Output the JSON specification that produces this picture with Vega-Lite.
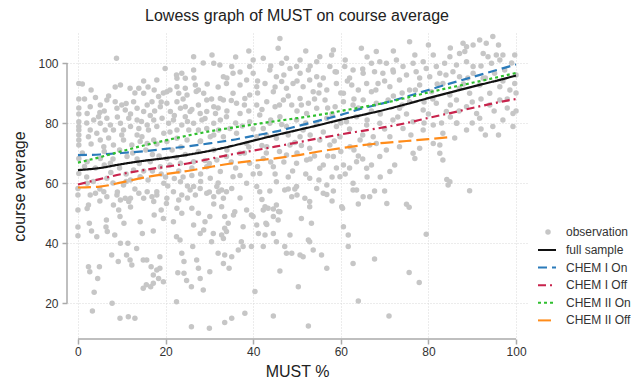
{
"$schema":"https://vega.github.io/schema/vega-lite/v6.json",
"autosize":{"type":"none"},
"width":460,"height":306,
"padding":{"left":67,"top":33,"right":104,"bottom":43},
"background":"white",
"title":{"text":"Lowess graph of MUST on course average","fontSize":16,"font":"Liberation Sans","fontWeight":"normal","color":"#222222","offset":9,"anchor":"middle"},
"config":{"view":{"stroke":null},"font":"Liberation Sans"},
"datasets":{
"obs":[
{"m":0,"c":51},{"m":0,"c":45.3},{"m":0,"c":42.4},{"m":2.4,"c":52.7},{"m":2.6,"c":46.6},{"m":3.1,"c":44},{"m":4.3,"c":42.1},{"m":2.4,"c":32.1},{"m":2.7,"c":30.4},{"m":3.7,"c":23.6},{"m":4.5,"c":28.2},{"m":4.9,"c":32.1},{"m":3.3,"c":17.3},{"m":6.5,"c":47.7},{"m":6.4,"c":45.3},{"m":6.7,"c":43.8},{"m":7.7,"c":36},{"m":7.8,"c":19.9},{"m":8.4,"c":42.7},{"m":9.6,"c":48.8},{"m":9.2,"c":33.8},{"m":9.7,"c":39.9},{"m":9.6,"c":14.9},{"m":10.5,"c":46.6},{"m":11.1,"c":36},{"m":11.4,"c":39.9},{"m":11.9,"c":34.3},{"m":12.3,"c":32.7},{"m":11.5,"c":15.4},{"m":13,"c":14.9},{"m":13.4,"c":38.2},{"m":14.2,"c":47.1},{"m":14.7,"c":43.2},{"m":14.9,"c":34.3},{"m":15.7,"c":34.3},{"m":14.9,"c":24.9},{"m":15.6,"c":26.1},{"m":16.6,"c":25.4},{"m":17.2,"c":26.6},{"m":16.7,"c":32.1},{"m":17.2,"c":29.3},{"m":18,"c":31},{"m":18.7,"c":31.6},{"m":18.4,"c":28.2},{"m":19.5,"c":27.1},{"m":17.2,"c":44},{"m":17.4,"c":49.3},{"m":19.5,"c":48.2},{"m":18.7,"c":35.4},{"m":20.2,"c":53.2},{"m":21.8,"c":47.1},{"m":22.5,"c":42.1},{"m":23.3,"c":41},{"m":22.8,"c":30.1},{"m":24.2,"c":29.9},{"m":22.5,"c":20.4},{"m":23.7,"c":36.6},{"m":24.2,"c":33.8},{"m":24.8,"c":27.5},{"m":25.9,"c":25.4},{"m":26.2,"c":38.8},{"m":25.9,"c":12.1},{"m":27.1,"c":34.3},{"m":27.5,"c":31.6},{"m":27.9,"c":28.2},{"m":28.6,"c":24.3},{"m":27.9,"c":43.2},{"m":29,"c":47.1},{"m":30.1,"c":48.8},{"m":30.1,"c":30.4},{"m":30,"c":11.6},{"m":30.5,"c":40.4},{"m":30.9,"c":43.2},{"m":32,"c":36.6},
{"m":0,"c":58.2},{"m":0,"c":56},{"m":2.8,"c":56},{"m":4,"c":56.6},{"m":2.1,"c":51.5},{"m":5.9,"c":57.1},{"m":6.6,"c":55.4},{"m":8.9,"c":56},{"m":9.7,"c":54.3},{"m":10.8,"c":54.9},{"m":11.6,"c":53.8},{"m":12,"c":54.9},{"m":8.1,"c":52.7},{"m":9.3,"c":51},{"m":13.9,"c":56.6},{"m":15,"c":54.9},{"m":15.8,"c":57.1},{"m":16.9,"c":55.4},{"m":18,"c":57.1},{"m":17.3,"c":53.8},{"m":20.3,"c":54.9},{"m":21.8,"c":57.1},{"m":23,"c":54.3},{"m":23.7,"c":56},{"m":22.6,"c":51.6},{"m":25.6,"c":57.7},{"m":26.8,"c":56},{"m":27.9,"c":58.2},{"m":29.4,"c":56.6},{"m":31,"c":55.4},{"m":32.1,"c":57.1},{"m":26,"c":51.6},{"m":23.7,"c":49.9},{"m":27.5,"c":49.9},{"m":26.4,"c":46},{"m":28.7,"c":44.3},
{"m":32.8,"c":57.7},{"m":33.9,"c":57.1},{"m":35.1,"c":58.2},{"m":33.2,"c":54.9},{"m":32.8,"c":52.1},{"m":33.5,"c":48.8},{"m":34.3,"c":46.6},{"m":33.5,"c":44.9},{"m":32.8,"c":42.7},{"m":33.9,"c":43.8},{"m":33.2,"c":41.5},{"m":35.8,"c":50.4},{"m":37.7,"c":45.4},{"m":37.3,"c":40.4},{"m":37.7,"c":38.8},{"m":36.6,"c":37.7},{"m":35.1,"c":35.4},{"m":33.5,"c":36},{"m":33.2,"c":33.2},{"m":34.5,"c":31.6},{"m":38.5,"c":51},{"m":39.6,"c":49.3},{"m":40,"c":48.8},{"m":40.8,"c":58.8},{"m":41.5,"c":57.1},{"m":43.8,"c":57.3},{"m":42.7,"c":52.1},{"m":43.4,"c":51.6},{"m":44.6,"c":51.3},{"m":42.3,"c":51},{"m":46.1,"c":50.4},{"m":45.3,"c":52.7},{"m":45.7,"c":47.7},{"m":40.8,"c":46},{"m":43.1,"c":46.2},{"m":41.2,"c":43.2},{"m":42.7,"c":42.7},{"m":44.6,"c":43.2},{"m":39.6,"c":38.8},{"m":42.3,"c":38.8},{"m":45.3,"c":40.4},{"m":47.2,"c":38.8},{"m":48.4,"c":42.7},{"m":47.6,"c":36.6},{"m":50.7,"c":36},{"m":51.4,"c":35.4},{"m":53.7,"c":37.7},{"m":55.6,"c":36},{"m":52.6,"c":41},{"m":52.9,"c":40.4},{"m":46.1,"c":30.7},{"m":56.8,"c":31.6},{"m":40.4,"c":23.8},{"m":50.3,"c":25.4},{"m":38.1,"c":16.6},{"m":35.1,"c":14.9},{"m":33.5,"c":13.5},{"m":44.6,"c":15.7},{"m":52.6,"c":12.3},{"m":64,"c":20.7},{"m":61.7,"c":42.7},{"m":61.7,"c":38.8},{"m":62.8,"c":33.2},{"m":60.6,"c":45.4},{"m":60.2,"c":52.1},{"m":60.4,"c":51.6},{"m":47.2,"c":57.7},{"m":48,"c":58},{"m":49.5,"c":58},{"m":48.8,"c":55.4},{"m":51.8,"c":54.9},{"m":52.9,"c":53.8},{"m":52.9,"c":52.1},{"m":53.3,"c":46.6},{"m":51,"c":48.2},{"m":54.5,"c":58.2},{"m":56,"c":56.6},{"m":56.8,"c":56.2},{"m":58.3,"c":57.3},{"m":62.8,"c":57.7},{"m":63.6,"c":57.7},{"m":65.1,"c":55.4},{"m":66.6,"c":55.4},{"m":35.5,"c":49.3},{"m":42.9,"c":46.6},{"m":44.6,"c":48.8},{"m":45.8,"c":50.5},{"m":48.8,"c":36.6},
{"m":67.7,"c":57.3},{"m":70,"c":57.3},{"m":70.5,"c":53.2},{"m":75,"c":52.9},{"m":75.6,"c":51.9},{"m":79.5,"c":42.9},{"m":67.7,"c":34.7},{"m":75.6,"c":30.2},{"m":77.9,"c":26.8},{"m":71,"c":15.7},{"m":89.4,"c":57.4},{"m":84.5,"c":59.3},
{"m":8.8,"c":101.6},{"m":0.2,"c":93.2},{"m":19.9,"c":98.2},{"m":26.4,"c":102.1},{"m":30.6,"c":102.7},{"m":31,"c":99.9},{"m":23.7,"c":96.6},{"m":26.4,"c":97.7},{"m":18,"c":94.3},{"m":22.6,"c":94.9},{"m":24.5,"c":94.9},{"m":9.7,"c":92.7},{"m":11.9,"c":91.6},{"m":13.9,"c":91.6},{"m":15,"c":89.9},{"m":17.4,"c":91},{"m":20.3,"c":90.4},{"m":22.6,"c":92.1},{"m":23,"c":89.9},{"m":24.5,"c":91.6},{"m":24.9,"c":89.3},{"m":26.8,"c":92.7},{"m":27.5,"c":91},{"m":28.7,"c":89.9},{"m":29.4,"c":87.7},{"m":31,"c":85.4},{"m":32.5,"c":88.2},
{"m":2.8,"c":85.4},{"m":5.1,"c":86},{"m":6.6,"c":87.7},{"m":8.5,"c":87.1},{"m":8.9,"c":84.9},{"m":10,"c":86},{"m":10.8,"c":84.3},{"m":12.7,"c":87.1},{"m":13.5,"c":84.9},{"m":15,"c":83.8},{"m":15.8,"c":86},{"m":16.9,"c":87.1},{"m":18.4,"c":88.8},{"m":18.8,"c":85.4},{"m":20.3,"c":86.6},{"m":21.1,"c":83.8},{"m":22.6,"c":87.1},{"m":23.4,"c":84.9},{"m":24.5,"c":85.4},{"m":25.6,"c":83.8},{"m":27.5,"c":86},{"m":27.9,"c":83.2},{"m":29.4,"c":83.8},{"m":31.4,"c":83.2},
{"m":0.2,"c":80.4},{"m":0.2,"c":78.8},{"m":0.2,"c":77.7},{"m":0.2,"c":76},{"m":0.2,"c":74.3},{"m":0.2,"c":72.7},{"m":2.1,"c":83.2},{"m":3.6,"c":81},{"m":4.7,"c":82.1},{"m":5.1,"c":79.9},{"m":2.8,"c":77.7},{"m":4.3,"c":76.6},{"m":2.4,"c":75.4},{"m":6.6,"c":81.6},{"m":7.4,"c":79.3},{"m":8.1,"c":77.7},{"m":6.2,"c":77.7},{"m":9.7,"c":79.9},{"m":10.4,"c":77.7},{"m":11.6,"c":81.6},{"m":12,"c":78.8},{"m":13.5,"c":81},{"m":13.9,"c":78.2},{"m":14.6,"c":75.4},{"m":15.8,"c":79.3},{"m":16.1,"c":77.7},{"m":17.3,"c":81},{"m":18,"c":78.8},{"m":19.2,"c":81.6},{"m":19.6,"c":76.6},{"m":20.7,"c":79.9},{"m":21.8,"c":81},{"m":22.6,"c":77.7},{"m":23.7,"c":79.3},{"m":24.5,"c":82.1},{"m":25.3,"c":77.7},{"m":26.4,"c":79.9},{"m":27.5,"c":77.7},{"m":28.3,"c":81},{"m":29.4,"c":78.2},{"m":31,"c":79.9},{"m":32.1,"c":77.7},{"m":32.5,"c":81},
{"m":5.1,"c":74.3},{"m":5.9,"c":72.1},{"m":8.1,"c":72.7},{"m":10.4,"c":74.3},{"m":12.3,"c":72.7},{"m":14.2,"c":73.8},{"m":15.8,"c":73.2},{"m":17.3,"c":74.3},{"m":20.3,"c":73.8},{"m":22.6,"c":74.9},{"m":24.9,"c":74.3},{"m":27.9,"c":73.8},{"m":30.2,"c":75.4},
{"m":2.1,"c":67.1},{"m":5.1,"c":68.2},{"m":7.4,"c":66.6},{"m":11.2,"c":68.8},{"m":12.7,"c":64.3},{"m":16.5,"c":67.1},{"m":18.8,"c":65.4},{"m":20.3,"c":68.2},{"m":23.4,"c":66.6},{"m":26.4,"c":67.1},{"m":29.4,"c":65.4},{"m":31.7,"c":67.7},{"m":32.5,"c":63.8},{"m":0.2,"c":68.2},{"m":0.2,"c":63.2},
{"m":2.1,"c":59.9},{"m":6.6,"c":61.6},{"m":10.4,"c":59.3},{"m":14.2,"c":62.1},{"m":19.6,"c":59.9},{"m":23.4,"c":60.4},{"m":26.4,"c":58.8},{"m":30.2,"c":61.6},{"m":31.7,"c":58.8},
{"m":46.1,"c":108.2},{"m":45.7,"c":104.9},{"m":58.3,"c":104.3},{"m":57.9,"c":102.7},{"m":64.7,"c":104.9},{"m":40,"c":101},{"m":42.3,"c":101.6},{"m":46.5,"c":99.9},{"m":47.6,"c":101.6},{"m":50.7,"c":101},{"m":54.5,"c":100.4},{"m":55.2,"c":102.1},{"m":32.4,"c":99.3},{"m":35.1,"c":98.8},{"m":35.4,"c":96.6},{"m":33.2,"c":95.4},{"m":39.2,"c":98.8},{"m":40,"c":96.6},{"m":43.8,"c":97.7},{"m":45.3,"c":95.4},{"m":48.4,"c":98.2},{"m":49.9,"c":98.8},{"m":50.7,"c":96.6},{"m":52.6,"c":97.7},{"m":54.5,"c":95.4},{"m":57.5,"c":98.8},{"m":58.7,"c":97.1},{"m":60.9,"c":98.8},{"m":62.8,"c":97.7},{"m":65.1,"c":96.6},{"m":67,"c":99.9},
{"m":33.9,"c":93.2},{"m":37,"c":92.7},{"m":38.5,"c":94.3},{"m":40.8,"c":92.1},{"m":42.7,"c":93.2},{"m":44.6,"c":90.4},{"m":46.5,"c":93.8},{"m":47.6,"c":91.6},{"m":49.1,"c":93.2},{"m":51.4,"c":92.1},{"m":52.9,"c":94.3},{"m":53.7,"c":90.4},{"m":55.2,"c":92.7},{"m":56.8,"c":91},{"m":59,"c":93.2},{"m":60.6,"c":89.9},{"m":62.5,"c":92.7},{"m":64,"c":91},{"m":65.9,"c":93.2},{"m":67,"c":90.4},{"m":35.4,"c":89.9},{"m":39.2,"c":89.3},
{"m":33.2,"c":87.7},{"m":36.2,"c":86.6},{"m":38.1,"c":88.2},{"m":40.8,"c":86},{"m":43.1,"c":87.1},{"m":45,"c":85.4},{"m":46.9,"c":87.7},{"m":48.8,"c":86},{"m":50.7,"c":88.2},{"m":52.6,"c":86.6},{"m":54.5,"c":84.9},{"m":56.4,"c":87.7},{"m":58.7,"c":85.4},{"m":60.6,"c":87.1},{"m":62.8,"c":86},{"m":65.1,"c":87.7},
{"m":33.9,"c":82.1},{"m":37,"c":83.2},{"m":39.2,"c":80.4},{"m":41.5,"c":82.7},{"m":43.8,"c":79.9},{"m":46.1,"c":82.1},{"m":47.6,"c":78.8},{"m":49.9,"c":81},{"m":52.2,"c":83.2},{"m":54.5,"c":79.9},{"m":56.8,"c":81.6},{"m":59,"c":78.8},{"m":61.3,"c":80.4},{"m":63.6,"c":82.1},{"m":65.9,"c":79.3},{"m":34.7,"c":78.2},{"m":42.3,"c":78.2},{"m":51.4,"c":77.7},
{"m":33.2,"c":75.4},{"m":36.2,"c":76.6},{"m":38.5,"c":73.2},{"m":40.8,"c":75.4},{"m":43.1,"c":72.1},{"m":45.3,"c":74.9},{"m":48.4,"c":72.7},{"m":50.7,"c":75.4},{"m":52.9,"c":71.6},{"m":55.2,"c":74.3},{"m":57.5,"c":72.7},{"m":59.8,"c":75.4},{"m":62.1,"c":72.1},{"m":64.4,"c":74.3},{"m":66.6,"c":72.7},
{"m":33.9,"c":68.8},{"m":37,"c":69.9},{"m":39.2,"c":66.6},{"m":42.3,"c":68.2},{"m":44.6,"c":65.4},{"m":47.6,"c":69.3},{"m":49.9,"c":66.6},{"m":52.2,"c":67.7},{"m":55.2,"c":64.9},{"m":58.3,"c":68.8},{"m":60.6,"c":66},{"m":63.6,"c":67.1},{"m":65.9,"c":64.9},
{"m":35.4,"c":62.1},{"m":38.5,"c":59.9},{"m":41.5,"c":63.2},{"m":45.3,"c":60.4},{"m":49.9,"c":58.8},{"m":52.9,"c":61.6},{"m":56.8,"c":59.3},{"m":59.8,"c":62.1},{"m":62.8,"c":59.9},
{"m":94.7,"c":108.8},{"m":75.7,"c":107.1},{"m":87.9,"c":106.6},{"m":88.7,"c":105.4},{"m":90.2,"c":106},{"m":91.7,"c":107.7},{"m":93.2,"c":106.6},{"m":76.9,"c":102.7},{"m":81.1,"c":102.7},{"m":84.9,"c":102.1},{"m":87.1,"c":103.2},{"m":88.3,"c":103.8},{"m":68.1,"c":103.8},{"m":92.5,"c":103.2},{"m":93.6,"c":102.1},{"m":95.5,"c":102.7},{"m":97,"c":102.7},{"m":99.7,"c":102.7},
{"m":68.9,"c":100.4},{"m":70.4,"c":99.9},{"m":72.7,"c":101},{"m":74.2,"c":98.8},{"m":76.5,"c":99.9},{"m":78.8,"c":100.4},{"m":79.5,"c":98.2},{"m":81.8,"c":98.8},{"m":83.7,"c":99.9},{"m":86.4,"c":99.3},{"m":88.7,"c":100.4},{"m":90.2,"c":98.8},{"m":94.4,"c":99.9},{"m":96.3,"c":101},
{"m":67.7,"c":97.1},{"m":69.6,"c":96.6},{"m":71.9,"c":97.7},{"m":75,"c":96},{"m":77.2,"c":97.1},{"m":80.3,"c":95.4},{"m":82.6,"c":96.6},{"m":85.6,"c":97.1},{"m":87.1,"c":95.4},{"m":90.2,"c":96.6},{"m":92.5,"c":94.9},{"m":95.1,"c":96.6},{"m":97.4,"c":97.7},
{"m":68.5,"c":93.2},{"m":71.2,"c":92.1},{"m":73.4,"c":94.3},{"m":75.7,"c":91},{"m":78,"c":92.7},{"m":80.7,"c":90.4},{"m":83.3,"c":93.2},{"m":84.9,"c":89.3},{"m":87.1,"c":91.6},{"m":89.4,"c":89.9},{"m":91.7,"c":92.7},{"m":94,"c":89.9},{"m":96.3,"c":92.1},{"m":98.6,"c":91},{"m":99.7,"c":93.2},
{"m":68.1,"c":86.6},{"m":70.8,"c":87.7},{"m":73.4,"c":84.9},{"m":75.7,"c":87.1},{"m":78.8,"c":84.3},{"m":81.8,"c":86.6},{"m":84.1,"c":83.8},{"m":86.4,"c":87.7},{"m":88.7,"c":85.4},{"m":91,"c":83.2},{"m":94,"c":86},{"m":96.3,"c":87.7},{"m":99.3,"c":83.2},
{"m":68.9,"c":79.9},{"m":71.9,"c":81},{"m":74.2,"c":78.2},{"m":76.5,"c":80.4},{"m":78.8,"c":77.7},{"m":81.1,"c":79.3},{"m":83.3,"c":76.6},{"m":86.4,"c":79.9},{"m":88.7,"c":77.7},{"m":91.7,"c":81.6},{"m":94.7,"c":78.8},{"m":99.3,"c":78.8},{"m":67.4,"c":75.4},{"m":71.2,"c":75.4},
{"m":68.1,"c":73.2},{"m":70.4,"c":71},{"m":73.4,"c":72.1},{"m":76.5,"c":69.9},{"m":76.9,"c":68.2},{"m":78,"c":71.6},{"m":81.1,"c":73.2},{"m":82.6,"c":69.9},{"m":83.3,"c":67.7},{"m":68.9,"c":68.8},{"m":72.3,"c":66},{"m":71.2,"c":63.8},{"m":84.9,"c":60.4},{"m":84.2,"c":61.2},{"m":82.6,"c":72.7},{"m":86.5,"c":80},
{"m":1.5,"c":88},{"m":3,"c":91},{"m":5,"c":83.5},{"m":7,"c":89},{"m":9,"c":82},{"m":11,"c":86.5},{"m":13,"c":90},{"m":14.5,"c":80.5},{"m":16,"c":92},{"m":17.5,"c":84},{"m":19,"c":87},{"m":21,"c":91},{"m":22,"c":82.5},{"m":24,"c":88},{"m":26,"c":84.5},{"m":27,"c":90.5},{"m":29,"c":81.5},{"m":30.5,"c":88},{"m":32,"c":92},
{"m":1,"c":70},{"m":3,"c":73},{"m":4,"c":65},{"m":6,"c":70.5},{"m":8,"c":68},{"m":9.5,"c":71},{"m":11,"c":63},{"m":12.5,"c":70},{"m":14,"c":66.5},{"m":15.5,"c":71},{"m":17,"c":64},{"m":18.5,"c":69},{"m":20,"c":62},{"m":21.5,"c":71},{"m":23,"c":64},{"m":24.5,"c":69.5},{"m":26,"c":62.5},{"m":27.5,"c":70.5},{"m":29,"c":67.5},{"m":31,"c":71},
{"m":2,"c":62},{"m":5,"c":58},{"m":7.5,"c":63.5},{"m":9,"c":57},{"m":11,"c":60.5},{"m":13,"c":58},{"m":16,"c":61},{"m":18,"c":56},{"m":20.5,"c":59},{"m":22,"c":61.5},{"m":25,"c":59},{"m":28,"c":60.5},{"m":30,"c":57},
{"m":34,"c":84},{"m":36,"c":80},{"m":38,"c":86},{"m":40,"c":78},{"m":42,"c":84.5},{"m":44,"c":81},{"m":46,"c":86},{"m":48,"c":76},{"m":50,"c":84},{"m":52,"c":80},{"m":54,"c":88},{"m":56,"c":77},{"m":58,"c":83},{"m":60,"c":90},{"m":62,"c":78},{"m":64,"c":85},{"m":66,"c":81},{"m":68,"c":91},
{"m":34,"c":71},{"m":36,"c":65},{"m":38,"c":70},{"m":40,"c":63},{"m":42,"c":72.5},{"m":44,"c":67},{"m":46,"c":70.5},{"m":48,"c":62},{"m":50,"c":70},{"m":52,"c":63},{"m":54,"c":69},{"m":56,"c":66},{"m":58,"c":62},{"m":60,"c":70.5},{"m":62,"c":65},{"m":64,"c":69},{"m":66,"c":62},
{"m":34,"c":95},{"m":37,"c":97},{"m":41,"c":94},{"m":44,"c":99},{"m":47,"c":96},{"m":50,"c":94},{"m":53,"c":99},{"m":56,"c":95},{"m":59,"c":97},{"m":62,"c":95},{"m":65,"c":98},
{"m":70,"c":94},{"m":72,"c":89},{"m":74,"c":86},{"m":77,"c":91},{"m":79,"c":87},{"m":82,"c":93},{"m":85,"c":86},{"m":88,"c":93},{"m":90,"c":87},{"m":93,"c":95},{"m":95,"c":84},{"m":98,"c":88},{"m":100,"c":96},{"m":100,"c":90},{"m":100,"c":84},
{"m":70,"c":78},{"m":73,"c":82},{"m":76,"c":76},{"m":80,"c":83},{"m":83,"c":80},{"m":86,"c":75},{"m":90,"c":80},{"m":93,"c":76},{"m":97,"c":81},{"m":28.6,"c":100},{"m":0.2,"c":88},{"m":0.2,"c":85},{"m":0.2,"c":83},
{"m":1,"c":93},{"m":2,"c":80},{"m":4,"c":88.5},{"m":6,"c":84},{"m":7,"c":75},{"m":8.5,"c":92},{"m":10,"c":76},{"m":12,"c":83},{"m":13.5,"c":76},{"m":15,"c":94},{"m":16.5,"c":82.5},{"m":18,"c":73},{"m":19.5,"c":90},{"m":21,"c":77},{"m":22.5,"c":96},{"m":23.5,"c":72},{"m":25,"c":80.5},{"m":26.5,"c":95},{"m":28,"c":74},{"m":29.5,"c":93},{"m":31,"c":76},{"m":32,"c":85},
{"m":1.5,"c":65.5},{"m":3.5,"c":60.5},{"m":6,"c":66},{"m":8,"c":60},{"m":9.5,"c":65},{"m":12,"c":61},{"m":13.5,"c":68},{"m":15,"c":64},{"m":17,"c":69.5},{"m":19,"c":63},{"m":21,"c":66},{"m":22.5,"c":68.5},{"m":24,"c":62},{"m":26,"c":65},{"m":28,"c":63},{"m":30,"c":66.5},{"m":32,"c":60},
{"m":35,"c":87.5},{"m":37.5,"c":79},{"m":39,"c":84},{"m":41,"c":90},{"m":43,"c":76},{"m":45,"c":92},{"m":46.5,"c":79.5},{"m":48,"c":89},{"m":49.5,"c":73.5},{"m":51,"c":86},{"m":53,"c":76},{"m":55,"c":90},{"m":57,"c":85},{"m":58.5,"c":74},{"m":60,"c":80},{"m":61.5,"c":94},{"m":63,"c":88},{"m":65,"c":76},{"m":67,"c":84},{"m":69,"c":83},
{"m":35,"c":67},{"m":37,"c":62.5},{"m":39,"c":72},{"m":41,"c":65.5},{"m":43,"c":70},{"m":45,"c":63},{"m":47,"c":67},{"m":49,"c":64},{"m":51,"c":72.5},{"m":53,"c":68},{"m":55,"c":61},{"m":57,"c":69},{"m":59,"c":65},{"m":61,"c":63},{"m":63,"c":71},{"m":65,"c":68},{"m":67,"c":66},{"m":69,"c":62},
{"m":36,"c":102},{"m":39,"c":104},{"m":52,"c":104},{"m":61,"c":101},{"m":66,"c":102},{"m":72,"c":104},{"m":80,"c":106},{"m":85,"c":105},{"m":96,"c":106},{"m":99,"c":100},
{"m":5,"c":54},{"m":12,"c":52},{"m":19,"c":51},{"m":25,"c":55},{"m":31,"c":53},{"m":37,"c":55},{"m":42,"c":54.5},{"m":50,"c":56},{"m":58,"c":54},{"m":64,"c":53},
{"m":72,"c":97},{"m":78,"c":95},{"m":84,"c":96},{"m":89,"c":95},{"m":92,"c":99},{"m":97,"c":94},{"m":74,"c":90},{"m":81,"c":88},{"m":87,"c":84},{"m":92,"c":88},{"m":98,"c":85},{"m":75,"c":83},{"m":79,"c":80},{"m":85,"c":82},{"m":92,"c":78},{"m":96,"c":76}
],
"lines":[
{"s":"full sample","m":0,"c":64.3},{"s":"full sample","m":5,"c":65},{"s":"full sample","m":10,"c":66.3},{"s":"full sample","m":15,"c":67.4},{"s":"full sample","m":20,"c":68.3},{"s":"full sample","m":25,"c":69.4},{"s":"full sample","m":30,"c":70.7},{"s":"full sample","m":35,"c":72.3},{"s":"full sample","m":40,"c":74.1},{"s":"full sample","m":45,"c":75.9},{"s":"full sample","m":50,"c":77.6},{"s":"full sample","m":55,"c":79.3},{"s":"full sample","m":60,"c":81.1},{"s":"full sample","m":65,"c":82.7},{"s":"full sample","m":70,"c":84.4},{"s":"full sample","m":75,"c":86.3},{"s":"full sample","m":80,"c":88.3},{"s":"full sample","m":85,"c":90.2},{"s":"full sample","m":90,"c":92.1},{"s":"full sample","m":95,"c":93.9},{"s":"full sample","m":100,"c":95.8},
{"s":"CHEM I On","m":0,"c":69.3},{"s":"CHEM I On","m":5,"c":69.5},{"s":"CHEM I On","m":10,"c":70},{"s":"CHEM I On","m":15,"c":70.6},{"s":"CHEM I On","m":20,"c":71.4},{"s":"CHEM I On","m":25,"c":72.2},{"s":"CHEM I On","m":30,"c":73.2},{"s":"CHEM I On","m":35,"c":74.3},{"s":"CHEM I On","m":40,"c":75.7},{"s":"CHEM I On","m":45,"c":77.1},{"s":"CHEM I On","m":50,"c":78.9},{"s":"CHEM I On","m":55,"c":80.8},{"s":"CHEM I On","m":60,"c":82.7},{"s":"CHEM I On","m":65,"c":84.9},{"s":"CHEM I On","m":70,"c":86.7},{"s":"CHEM I On","m":75,"c":88.8},{"s":"CHEM I On","m":80,"c":91},{"s":"CHEM I On","m":85,"c":93.2},{"s":"CHEM I On","m":90,"c":95.3},{"s":"CHEM I On","m":95,"c":97.4},{"s":"CHEM I On","m":100,"c":99.5},
{"s":"CHEM I Off","m":0,"c":59.5},{"s":"CHEM I Off","m":5,"c":61.3},{"s":"CHEM I Off","m":10,"c":63},{"s":"CHEM I Off","m":15,"c":64.3},{"s":"CHEM I Off","m":20,"c":65.4},{"s":"CHEM I Off","m":25,"c":66.5},{"s":"CHEM I Off","m":30,"c":68},{"s":"CHEM I Off","m":35,"c":69.5},{"s":"CHEM I Off","m":40,"c":70.8},{"s":"CHEM I Off","m":45,"c":72.1},{"s":"CHEM I Off","m":50,"c":73.5},{"s":"CHEM I Off","m":55,"c":74.9},{"s":"CHEM I Off","m":60,"c":76.2},{"s":"CHEM I Off","m":65,"c":77.4},{"s":"CHEM I Off","m":70,"c":78.6},{"s":"CHEM I Off","m":75,"c":80},{"s":"CHEM I Off","m":80,"c":81.7},{"s":"CHEM I Off","m":85,"c":83.3},{"s":"CHEM I Off","m":90,"c":85},{"s":"CHEM I Off","m":95,"c":86.6},{"s":"CHEM I Off","m":100,"c":88},
{"s":"CHEM II On","m":0,"c":66.8},{"s":"CHEM II On","m":5,"c":68.6},{"s":"CHEM II On","m":10,"c":70.6},{"s":"CHEM II On","m":15,"c":72.5},{"s":"CHEM II On","m":20,"c":74.2},{"s":"CHEM II On","m":25,"c":75.8},{"s":"CHEM II On","m":30,"c":77.2},{"s":"CHEM II On","m":35,"c":78.4},{"s":"CHEM II On","m":40,"c":79.5},{"s":"CHEM II On","m":45,"c":80.6},{"s":"CHEM II On","m":50,"c":81.6},{"s":"CHEM II On","m":55,"c":82.7},{"s":"CHEM II On","m":60,"c":84},{"s":"CHEM II On","m":65,"c":85.3},{"s":"CHEM II On","m":70,"c":86.7},{"s":"CHEM II On","m":75,"c":88.4},{"s":"CHEM II On","m":80,"c":90.2},{"s":"CHEM II On","m":85,"c":91.8},{"s":"CHEM II On","m":90,"c":93.4},{"s":"CHEM II On","m":95,"c":95},{"s":"CHEM II On","m":100,"c":96.7},
{"s":"CHEM II Off","m":0,"c":58.5},{"s":"CHEM II Off","m":5,"c":58.8},{"s":"CHEM II Off","m":10,"c":60.2},{"s":"CHEM II Off","m":15,"c":61.8},{"s":"CHEM II Off","m":20,"c":63},{"s":"CHEM II Off","m":25,"c":64},{"s":"CHEM II Off","m":30,"c":65.3},{"s":"CHEM II Off","m":35,"c":66.5},{"s":"CHEM II Off","m":40,"c":67.4},{"s":"CHEM II Off","m":45,"c":68.2},{"s":"CHEM II Off","m":50,"c":69.2},{"s":"CHEM II Off","m":55,"c":70.5},{"s":"CHEM II Off","m":60,"c":71.6},{"s":"CHEM II Off","m":65,"c":72.6},{"s":"CHEM II Off","m":70,"c":73.4},{"s":"CHEM II Off","m":75,"c":74},{"s":"CHEM II Off","m":80,"c":74.6},{"s":"CHEM II Off","m":84.9,"c":75.3}
]
},
"layer":[
{"data":{"name":"obs"},
 "mark":{"type":"point","filled":true,"size":30,"opacity":1,"color":"#c6c6c6","strokeWidth":0},
 "encoding":{
  "x":{"field":"m","type":"quantitative","scale":{"domain":[-2.5,102.5],"nice":false,"zero":false},
   "axis":{"values":[0,20,40,60,80,100],"domain":false,"grid":true,"gridColor":"#d9d9d9","gridDash":[1,2],"gridWidth":1,"tickColor":"#aaaaaa","tickSize":5,"tickWidth":1.5,"labelFontSize":12,"labelColor":"#333333","labelPadding":2,"labelFont":"Liberation Sans","title":"MUST %","titleFont":"Liberation Sans","titleFontSize":16,"titleFontWeight":"normal","titleColor":"#222222","titlePadding":6}},
  "y":{"field":"c","type":"quantitative","scale":{"domain":[8,110],"nice":false,"zero":false},
   "axis":{"values":[20,40,60,80,100],"domain":false,"grid":true,"gridColor":"#d9d9d9","gridDash":[1,2],"gridWidth":1,"tickColor":"#aaaaaa","tickSize":5,"tickWidth":1.5,"labelFontSize":12,"labelColor":"#333333","labelPadding":4,"labelFont":"Liberation Sans","title":"course average","titleFont":"Liberation Sans","titleFontSize":16,"titleFontWeight":"normal","titleColor":"#222222","titlePadding":10}},
  "shape":{"datum":"observation","scale":{"domain":["observation"],"range":["circle"]},
   "legend":{"orient":"none","legendX":475,"legendY":193,"title":null,"symbolFillColor":"#c6c6c6","symbolStrokeColor":"#c6c6c6","symbolStrokeWidth":0,"symbolSize":30,"labelFontSize":12,"labelColor":"#333333","labelFont":"Liberation Sans","labelOffset":12}}
 }},
{"data":{"name":"lines"},
 "mark":{"type":"line","strokeWidth":2.2,"interpolate":"monotone"},
 "encoding":{
  "x":{"field":"m","type":"quantitative"},
  "y":{"field":"c","type":"quantitative"},
  "color":{"field":"s","type":"nominal","scale":{"domain":["full sample","CHEM I On","CHEM I Off","CHEM II On","CHEM II Off"],"range":["#111111","#2b7bba","#c8234c","#2fbf2f","#ff8c1a"]},
   "legend":{"orient":"none","legendX":470,"legendY":207,"title":null,"symbolType":"stroke","symbolSize":324,"symbolStrokeWidth":2,"labelFontSize":12,"labelColor":"#333333","labelFont":"Liberation Sans","labelOffset":9,"rowPadding":1.6}},
  "strokeDash":{"field":"s","type":"nominal","scale":{"domain":["full sample","CHEM I On","CHEM I Off","CHEM II On","CHEM II Off"],"range":[[1,0],[9,5],[8,4,2,4],[3,3],[13,5]]},
   "legend":{"orient":"none","legendX":470,"legendY":207,"title":null,"symbolType":"stroke","symbolSize":324,"symbolStrokeWidth":2,"labelFontSize":12,"labelColor":"#333333","labelFont":"Liberation Sans","labelOffset":9,"rowPadding":1.6}}
 }},
{"data":{"values":[{}]},
 "mark":{"type":"rule","color":"#aaaaaa","strokeWidth":1.5},
 "encoding":{"x":{"datum":-2.5,"type":"quantitative"},"y":{"datum":20,"type":"quantitative"},"y2":{"datum":100}}},
{"data":{"values":[{}]},
 "mark":{"type":"rule","color":"#aaaaaa","strokeWidth":1.5},
 "encoding":{"x":{"datum":0,"type":"quantitative"},"x2":{"datum":100},"y":{"datum":8,"type":"quantitative"}}}
]
}
